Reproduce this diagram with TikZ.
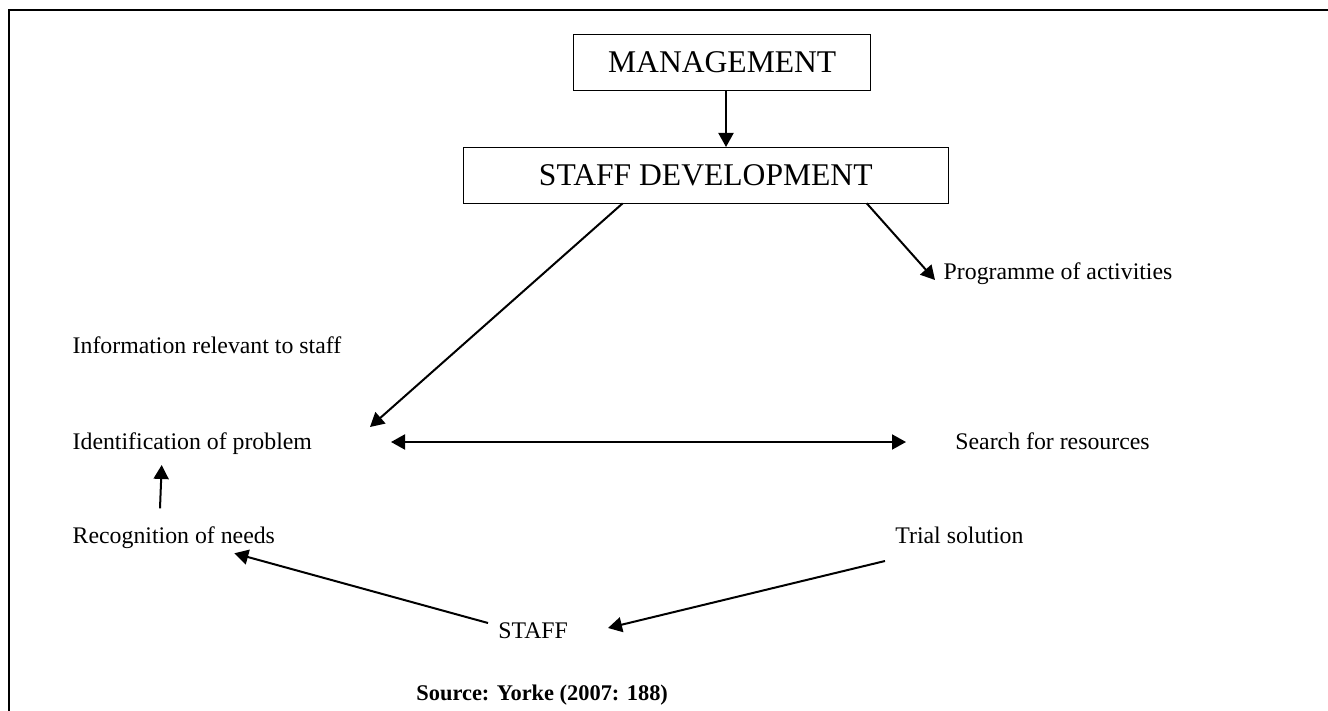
\documentclass[tikz,border=0pt]{standalone}
\usepackage{fontspec}
\setmainfont{Liberation Serif}
\usetikzlibrary{arrows.meta}
\begin{document}
\begin{tikzpicture}[x=0.5pt,y=-0.5pt,
  lbl/.style={anchor=base west,inner sep=0pt,font=\fontsize{11.9}{14}\selectfont},
  boxnode/.style={draw,line width=0.7pt,inner sep=0pt,font=\fontsize{15.8}{18}\selectfont},
  conn/.style={line width=1pt,-{Triangle[length=7pt,width=7.5pt]}},
  frame/.style={line width=1.1pt}]
\useasboundingbox (0,0) rectangle (1328,711);
\draw[frame] (1328,10) -- (9,10) -- (9,711);
% boxes
\node[boxnode,minimum width=148.5pt,minimum height=28.2pt] (mgmt) at (722.2,62.5) {MANAGEMENT};
\node[boxnode,minimum width=242.5pt,minimum height=27.9pt] (sd) at (705.8,175.4) {STAFF DEVELOPMENT};
% labels
\node[lbl] (prog) at (943.3,280) {Programme of activities};
\node[lbl] (info) at (72.3,353) {Information relevant to staff};
\node[lbl] (ident) at (72.3,449) {Identification of problem};
\node[lbl] (search) at (955,449) {Search for resources};
\node[lbl] (trial) at (895,543.5) {Trial solution};
\node[lbl] (recog) at (72.3,543.5) {Recognition of needs};
\node[lbl] (staff) at (498,638) {STAFF};
\node[lbl,font=\fontsize{11.2}{14}\selectfont\bfseries] (src) at (416,700) {Source: Yorke (2007: 188)};
% connector end points
\coordinate (mgmtS) at (726,90.7);
\coordinate (sdN) at (726,147);
\coordinate (sdR) at (866.7,203.3);
\coordinate (progTip) at (935,280);
\coordinate (sdL) at (622.7,203.3);
\coordinate (identTip) at (370,427);
\coordinate (dblL) at (391,442);
\coordinate (dblR) at (906,442);
\coordinate (recogUp) at (160,508.3);
\coordinate (identUp) at (161.7,465);
\coordinate (staffL) at (488,623);
\coordinate (recogTip) at (234.3,553.3);
\coordinate (trialS) at (885,561);
\coordinate (staffTip) at (608,628);
% connectors
\draw[conn] (mgmtS) -- (sdN);
\draw[conn] (sdR) -- (progTip);
\draw[conn] (sdL) -- (identTip);
\draw[conn,{Triangle[length=7pt,width=7.5pt]}-{Triangle[length=7pt,width=7.5pt]}] (dblL) -- (dblR);
\draw[conn] (recogUp) -- (identUp);
\draw[conn] (staffL) -- (recogTip);
\draw[conn] (trialS) -- (staffTip);
\end{tikzpicture}
\end{document}
